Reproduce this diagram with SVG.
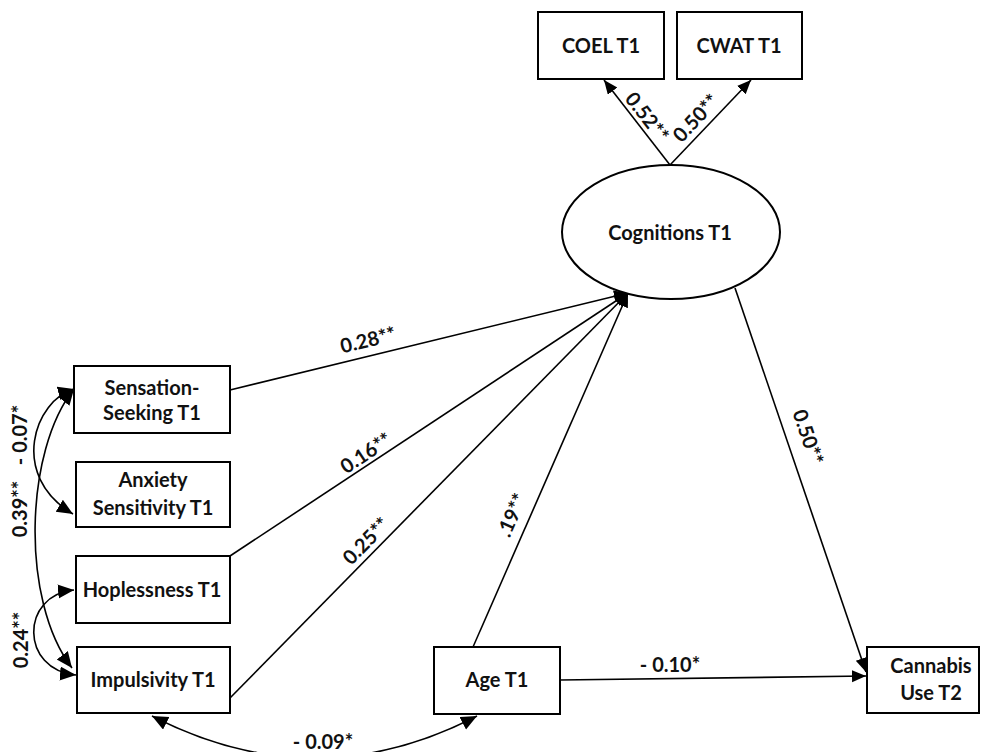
<svg xmlns="http://www.w3.org/2000/svg" width="981" height="752" viewBox="0 0 981 752">
<style>
.box{fill:#fff;stroke:#000;stroke-width:2}
.t{font-family:Lato,"Open Sans","Liberation Sans",sans-serif;font-weight:bold;font-size:20px;fill:#111;text-anchor:middle}
.l{font-family:Lato,"Open Sans","Liberation Sans",sans-serif;font-weight:bold;font-size:20px;fill:#111;text-anchor:middle}
.c{fill:none;stroke:#000;stroke-width:1.6}
</style>
<defs>
<marker id="ah" markerUnits="userSpaceOnUse" markerWidth="16" markerHeight="14" refX="14" refY="6" orient="auto-start-reverse">
<path d="M0,0 L14,6 L0,12 Z" fill="#000"/>
</marker>
<marker id="ahb" markerUnits="userSpaceOnUse" markerWidth="18" markerHeight="16" refX="16" refY="7" orient="auto-start-reverse">
<path d="M0,0 L16,7 L0,14 Z" fill="#000"/>
</marker>
</defs>
<rect width="981" height="752" fill="#fff"/>
<g id="connectors">
<path class="c" d="M670,165 L604,80" marker-end="url(#ah)"/>
<path class="c" d="M670,165 L751,80" marker-end="url(#ah)"/>
<path class="c" d="M230,390 L628,293" marker-end="url(#ah)"/>
<path class="c" d="M230,556 L628,293" marker-end="url(#ah)"/>
<path class="c" d="M230,698 L628,293" marker-end="url(#ah)"/>
<path class="c" d="M473,647 L628,293" marker-end="url(#ah)"/>
<path class="c" d="M735,288 L866,672" marker-end="url(#ah)"/>
<path class="c" d="M560,680 L866,676" marker-end="url(#ah)"/>
<path class="c" d="M74,389 C35,400 8,475 73,514" marker-start="url(#ahb)" marker-end="url(#ahb)"/>
<path class="c" d="M74,389 C25,450 20,600 72,668" marker-start="url(#ahb)" marker-end="url(#ahb)"/>
<path class="c" d="M74,590 C20,595 20,670 76,675" marker-start="url(#ahb)" marker-end="url(#ahb)"/>
<path class="c" d="M152,716 Q315,800 477,716" marker-start="url(#ahb)" marker-end="url(#ahb)"/>
<text class="l" transform="translate(647,117) rotate(52)" y="7">0.52**</text>
<text class="l" transform="translate(696,118) rotate(-47)" y="7">0.50**</text>
<text class="l" transform="translate(368,340) rotate(-13.7)" y="7">0.28**</text>
<text class="l" transform="translate(366,453) rotate(-33.5)" y="7">0.16**</text>
<text class="l" transform="translate(366,541) rotate(-45.5)" y="7">0.25**</text>
<text class="l" transform="translate(512,515) rotate(-66.4)" y="7">.19**</text>
<text class="l" transform="translate(808,437) rotate(71.3)" y="7">0.50**</text>
<text class="l" x="670" y="672">- 0.10*</text>
<text class="l" x="323" y="749">- 0.09*</text>
<text class="l" transform="translate(20,435) rotate(-90)" y="7">- 0.07*</text>
<text class="l" transform="translate(20,509) rotate(-90)" y="7">0.39**</text>
<text class="l" transform="translate(21,640) rotate(-90)" y="7">0.24**</text>
</g>
<g id="coel"><rect class="box" x="538" y="12" width="126" height="67"/><text class="t" x="601" y="53">COEL T1</text></g>
<g id="cwat"><rect class="box" x="677" y="12" width="125" height="67"/><text class="t" x="739" y="53">CWAT T1</text></g>
<g id="cognitions"><ellipse class="box" cx="671" cy="232" rx="109" ry="67"/><text class="t" x="670" y="240">Cognitions T1</text></g>
<g id="sensation"><rect class="box" x="74" y="366" width="156" height="67"/><text class="t" x="152" y="395">Sensation-</text><text class="t" x="152" y="420">Seeking T1</text></g>
<g id="anxiety"><rect class="box" x="76" y="462" width="154" height="65"/><text class="t" x="153" y="487">Anxiety</text><text class="t" x="153" y="515">Sensitivity T1</text></g>
<g id="hopelessness"><rect class="box" x="76" y="556" width="154" height="67"/><text class="t" x="152" y="597">Hoplessness T1</text></g>
<g id="impulsivity"><rect class="box" x="77" y="647" width="153" height="66"/><text class="t" x="153" y="687">Impulsivity T1</text></g>
<g id="age"><rect class="box" x="434" y="647" width="126" height="67"/><text class="t" x="497" y="687">Age T1</text></g>
<g id="cannabis"><rect class="box" x="867" y="647" width="112" height="66"/><text class="t" x="931" y="673">Cannabis</text><text class="t" x="931" y="700">Use T2</text></g>
</svg>
